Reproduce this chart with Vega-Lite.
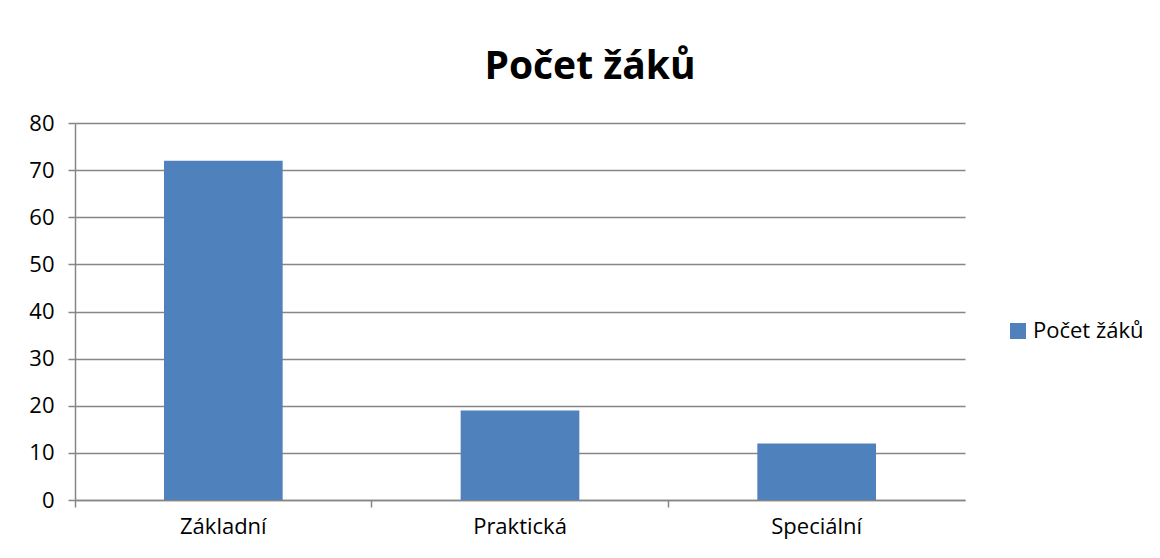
{
  "$schema": "https://vega.github.io/schema/vega-lite/v6.json",
  "autosize": {"type": "none"},
  "padding": {"left": 75, "top": 123, "right": 195, "bottom": 58},
  "width": 890,
  "height": 377,
  "background": "white",
  "title": {
    "text": "Počet žáků",
    "font": "Open Sans",
    "fontSize": 39,
    "fontWeight": "bold",
    "color": "#000000",
    "anchor": "middle",
    "dx": 70,
    "offset": 25
  },
  "data": {
    "values": [
      {"typ": "Základní", "pocet": 72, "serie": "Počet žáků"},
      {"typ": "Praktická", "pocet": 19, "serie": "Počet žáků"},
      {"typ": "Speciální", "pocet": 12, "serie": "Počet žáků"}
    ]
  },
  "mark": {"type": "bar", "width": {"band": 0.4}},
  "encoding": {
    "x": {
      "field": "typ",
      "type": "nominal",
      "sort": null,
      "scale": {"paddingInner": 0, "paddingOuter": 0},
      "axis": {
        "title": null,
        "labelAngle": 0,
        "bandPosition": 0,
        "labelFont": "Open Sans",
        "labelFontSize": 22,
        "labelColor": "#000000",
        "labelPadding": 9,
        "tickSize": 7,
        "tickColor": "#868686",
        "domainColor": "#868686",
        "domainWidth": 1.5,
        "tickWidth": 1.5
      }
    },
    "y": {
      "field": "pocet",
      "type": "quantitative",
      "scale": {"domain": [0, 80]},
      "axis": {
        "title": null,
        "values": [0, 10, 20, 30, 40, 50, 60, 70, 80],
        "grid": true,
        "gridColor": "#868686",
        "gridWidth": 1.5,
        "domainColor": "#868686",
        "domainWidth": 1.5,
        "tickColor": "#868686",
        "tickWidth": 1.5,
        "tickSize": 7,
        "labelFont": "Open Sans",
        "labelFontSize": 22,
        "labelColor": "#000000",
        "labelPadding": 14
      }
    },
    "color": {
      "field": "serie",
      "type": "nominal",
      "scale": {"range": ["#4F81BD"]},
      "legend": {
        "title": null,
        "orient": "none",
        "legendX": 932,
        "legendY": 197,
        "symbolType": "square",
        "symbolSize": 256,
        "symbolStrokeWidth": 0,
        "labelFont": "Open Sans",
        "labelFontSize": 22,
        "labelColor": "#000000"
      }
    }
  },
  "config": {
    "view": {"stroke": null}
  }
}
